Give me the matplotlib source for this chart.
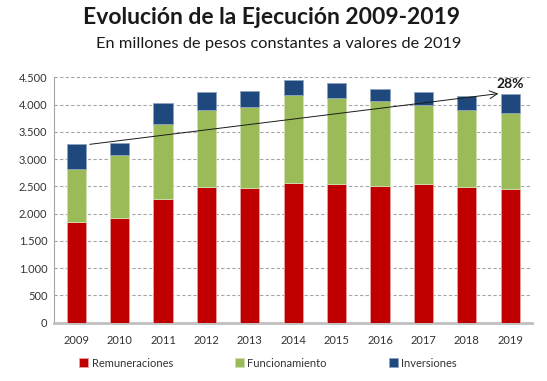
import matplotlib
matplotlib.use("Agg")
import matplotlib.pyplot as plt
import numpy as np

plt.rcParams['font.family'] = ['Lato', 'DejaVu Sans']

years = ['2009', '2010', '2011', '2012', '2013', '2014', '2015', '2016', '2017', '2018', '2019']
remuneraciones = [1840, 1914, 2268, 2488, 2470, 2562, 2543, 2513, 2543, 2488, 2452]
funcionamiento = [985, 1161, 1376, 1413, 1486, 1620, 1584, 1553, 1449, 1419, 1394]
inversiones = [452, 220, 385, 336, 293, 263, 263, 226, 239, 251, 342]
yticks = [0, 500, 1000, 1500, 2000, 2500, 3000, 3500, 4000, 4500]
trend_start = 3265
trend_end = 4208
growth_label = '28%'

fig = plt.figure(figsize=(5.47, 3.81), dpi=100)
ax = fig.add_axes([0.0995, 0.153, 0.873, 0.644])

x = np.arange(len(years))
w = 0.44
r = np.array(remuneraciones)
f = np.array(funcionamiento)
i = np.array(inversiones)
ax.bar(x, r, w, color='#C00000', edgecolor='#e8a0a0', linewidth=0.6, label='Remuneraciones', zorder=3)
ax.bar(x, f, w, bottom=r, color='#9BBB59', edgecolor='#d0e0b0', linewidth=0.6, label='Funcionamiento', zorder=3)
ax.bar(x, i, w, bottom=r + f, color='#1F497D', edgecolor='#8fa4be', linewidth=0.6, label='Inversiones', zorder=3)

ax.set_xlim(-0.5, len(years) - 0.5)
ax.set_ylim(0, 4500)
ax.set_yticks(yticks)
ax.set_yticklabels([f'{v:,}'.replace(',', '.') for v in yticks])
ax.set_xticks(x)
ax.set_xticklabels(years)
ax.yaxis.grid(True, linestyle=(0, (3, 2)), color='#a6a6a6', linewidth=0.8, zorder=0)
ax.set_axisbelow(True)
for s in ['top', 'right']:
    ax.spines[s].set_visible(False)
ax.spines['left'].set_color('#a6a6a6')
ax.spines['bottom'].set_color('#bfbfbf')
ax.spines['bottom'].set_linewidth(2)
ax.tick_params(axis='both', length=0, labelsize=8, colors='#333333', pad=5)
ax.tick_params(axis='x', pad=9)

ax.annotate('', xy=(9.79, trend_end), xytext=(0.25, trend_start),
            arrowprops=dict(arrowstyle='->', color='#1a1a1a', lw=0.7, mutation_scale=14), zorder=5)
ax.text(10.0, 4260, growth_label, fontsize=10, fontweight='bold', color='#1a1a1a', ha='center', va='bottom', zorder=6)

fig.text(0.497, 0.955, 'Evolución de la Ejecución 2009-2019', ha='center', va='center',
         fontsize=16.5, fontweight='bold', color='#1a1a1a')
fig.text(0.51, 0.885, 'En millones de pesos constantes a valores de 2019', ha='center', va='center',
         fontsize=11.8, color='#1a1a1a')

leg = fig.legend(loc='center', bbox_to_anchor=(0.49, 0.047), ncol=3, frameon=False, fontsize=8,
                 handlelength=0.8, handleheight=0.8, handletextpad=0.3, columnspacing=5.6)
for t in leg.get_texts():
    t.set_color('#333333')

fig.savefig('out.png', dpi=100)
